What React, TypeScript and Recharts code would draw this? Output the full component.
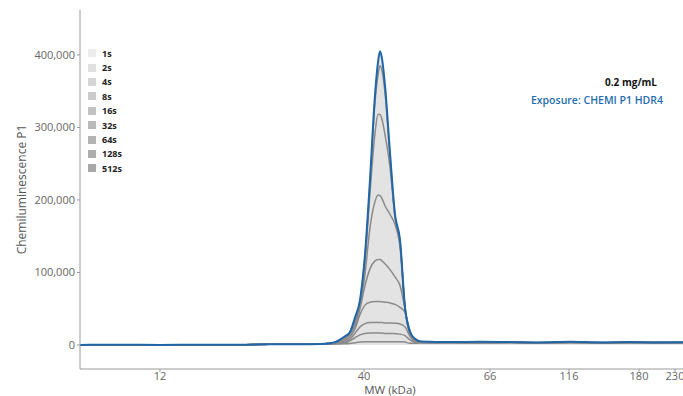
import { ComposedChart, Area, Line, XAxis, YAxis } from "recharts";

const AXIS_COLOR = "#9a9a9a";
const TICK = { fill: "#666", fontSize: 11 };
const BLUE = "#2166a8";
const GRAY = "#8a8a8a";
const FILL = "#e3e3e3";

// x is a position along the (non-linear) MW axis
const X = [80, 120, 160, 200, 240, 270, 300, 320, 330, 335, 340, 345, 350, 355, 360, 365, 370, 375, 378, 380, 382, 385, 390, 395, 400, 405, 410, 415, 420, 430, 450, 480, 510, 540, 570, 600, 630, 660, 700];
const TICK_POS = [160, 364, 490, 569, 639, 675];
const TICK_LABELS = ["12", "40", "66", "116", "180", "230"];
const Y_TICKS = [0, 100000, 200000, 300000, 400000];

const S1 = [0, 500, 0, 500, 500, 1000, 1000, 1500, 1500, 1500, 1500, 1800, 2000, 3000, 4000, 4500, 4500, 4500, 4500, 4500, 4500, 4500, 4500, 4500, 4500, 4000, 2500, 2500, 3000, 3000, 3500, 3000, 3500, 3000, 3500, 3000, 3000, 3500, 3000];
const S2 = [0, 500, 0, 500, 500, 1000, 1000, 1500, 1500, 2000, 2500, 3000, 6000, 10000, 14000, 16000, 16500, 16500, 16500, 16500, 16500, 16000, 16000, 15500, 15000, 13000, 7000, 3500, 3000, 3000, 3500, 3000, 3500, 3000, 3500, 3000, 3000, 3500, 3000];
const S4 = [0, 500, 0, 500, 500, 1000, 1000, 1500, 1500, 2000, 2500, 4000, 8000, 16000, 25000, 29500, 31000, 31000, 31000, 31000, 31000, 30500, 30500, 30000, 29000, 25000, 12000, 4500, 3500, 3000, 3500, 3000, 3500, 3000, 3500, 3000, 3000, 3500, 3000];
const S8 = [0, 500, 0, 500, 500, 1000, 1000, 1500, 2000, 2500, 3500, 6000, 11000, 22000, 42000, 55000, 59000, 60000, 60000, 60000, 59500, 59000, 58000, 56000, 52000, 45000, 20000, 6000, 4000, 3500, 3500, 3000, 3500, 3000, 3500, 3000, 3000, 3500, 3000];
const S16 = [0, 500, 0, 500, 500, 1000, 1000, 1500, 2500, 3000, 5000, 8000, 14000, 26000, 50000, 82000, 105000, 116000, 118000, 118000, 116000, 112000, 104000, 94000, 82000, 50000, 16000, 7000, 4500, 3500, 3500, 3500, 3500, 3000, 3500, 3000, 3500, 3500, 3000];
const S32 = [0, 500, 0, 500, 500, 1000, 1000, 1500, 2500, 3500, 6000, 10000, 16000, 30000, 54000, 98000, 162000, 198000, 207000, 206000, 202000, 192000, 180000, 166000, 135000, 51000, 16000, 7000, 4500, 4000, 3500, 3500, 4000, 3000, 4000, 3000, 3500, 3500, 3500];
const S64 = [0, 500, 0, 500, 500, 1000, 1000, 1500, 2500, 3500, 6500, 11000, 17000, 34000, 58000, 115000, 210000, 292000, 318000, 318000, 311000, 290000, 245000, 176000, 142000, 51500, 16000, 7500, 5000, 4000, 3500, 4000, 4000, 3500, 4000, 3500, 3500, 3500, 3500];
const S128 = [0, 500, 0, 500, 500, 1000, 1000, 1500, 2500, 3500, 7000, 11500, 17500, 36000, 60000, 121000, 222000, 335000, 372000, 385000, 378000, 348000, 260000, 178000, 143000, 52000, 17000, 8000, 5000, 4500, 4000, 4500, 4000, 3500, 4500, 3500, 4000, 3500, 4000];
const S512 = [0, 500, 0, 500, 500, 1000, 1000, 1500, 2500, 4000, 7500, 12000, 18000, 38000, 62000, 125000, 228000, 345000, 390000, 405000, 395000, 358000, 265000, 180000, 145000, 52000, 18000, 8500, 5000, 4500, 4000, 4500, 4000, 3500, 4500, 3500, 4000, 3500, 4000];

const LEGEND = ["1s", "2s", "4s", "8s", "16s", "32s", "64s", "128s", "512s"];
const LEGEND_SHADES = ["#ececec", "#e0e0e0", "#d5d5d5", "#cbcbcb", "#c2c2c2", "#bababa", "#b3b3b3", "#adadad", "#a8a8a8"];

const data = X.map((x, i) => ({
  x, s1: S1[i], s2: S2[i], s4: S4[i], s8: S8[i], s16: S16[i],
  s32: S32[i], s64: S64[i], s128: S128[i], s512: S512[i],
}));

const GRAY_KEYS = ["s1", "s2", "s4", "s8", "s16", "s32", "s64", "s128"];

export default function App() {
  return (
    <div style={{
      position: "absolute", left: 0, top: 0, width: 683, height: 396,
      overflow: "hidden", background: "#fff", fontFamily: "'Open Sans', sans-serif",
    }}>
      <ComposedChart width={700} height={396} data={data}
        margin={{ top: 10, right: 0, bottom: 0, left: 0 }}>
        <XAxis xAxisId="top" orientation="top" type="number" dataKey="x"
          domain={[80, 700]} height={0} tick={false} tickLine={false}
          axisLine={{ stroke: AXIS_COLOR }} />
        <XAxis type="number" dataKey="x" domain={[80, 700]} ticks={TICK_POS}
          allowDataOverflow height={27} tickSize={3} tickMargin={0}
          tick={TICK} stroke={AXIS_COLOR}
          tickFormatter={(v) => TICK_LABELS[TICK_POS.indexOf(v)] ?? ""}
          label={{ value: "MW (kDa)", position: "insideBottom", offset: 2.5, fill: "#555", fontSize: 11.5 }} />
        <YAxis type="number" width={80} domain={[-33100, 462000]} ticks={Y_TICKS}
          allowDataOverflow tickSize={3} tickMargin={2} tick={TICK} stroke={AXIS_COLOR}
          tickFormatter={(v) => v.toLocaleString("en-US")}
          label={{ value: "Chemiluminescence P1", angle: -90, position: "center", dx: -18, fill: "#555", fontSize: 12 }} />
        <Area type="monotone" dataKey="s512" stroke="none" fill={FILL} fillOpacity={1}
          isAnimationActive={false} />
        {GRAY_KEYS.map((k) => (
          <Line key={k} type="monotone" dataKey={k} stroke={GRAY} strokeWidth={1.5}
            dot={false} isAnimationActive={false} />
        ))}
        <Line type="monotone" dataKey="s512" stroke={BLUE} strokeWidth={2}
          dot={false} isAnimationActive={false} />
      </ComposedChart>

      <div style={{ position: "absolute", left: 88, top: 46 }}>
        {LEGEND.map((l, i) => (
          <div key={l} style={{ display: "flex", alignItems: "center", height: 14.4 }}>
            <span style={{ width: 8, height: 8, background: LEGEND_SHADES[i], marginRight: 6 }} />
            <span style={{ fontSize: 9, fontWeight: 700, color: "#222" }}>{l}</span>
          </div>
        ))}
      </div>

      <div style={{ position: "absolute", right: 26, top: 75, fontSize: 10, fontWeight: 700, color: "#111" }}>
        0.2 mg/mL
      </div>
      <div style={{ position: "absolute", right: 20, top: 93, fontSize: 10.5, fontWeight: 600, color: "#1f6db0" }}>
        Exposure: CHEMI P1 HDR4
      </div>
    </div>
  );
}
